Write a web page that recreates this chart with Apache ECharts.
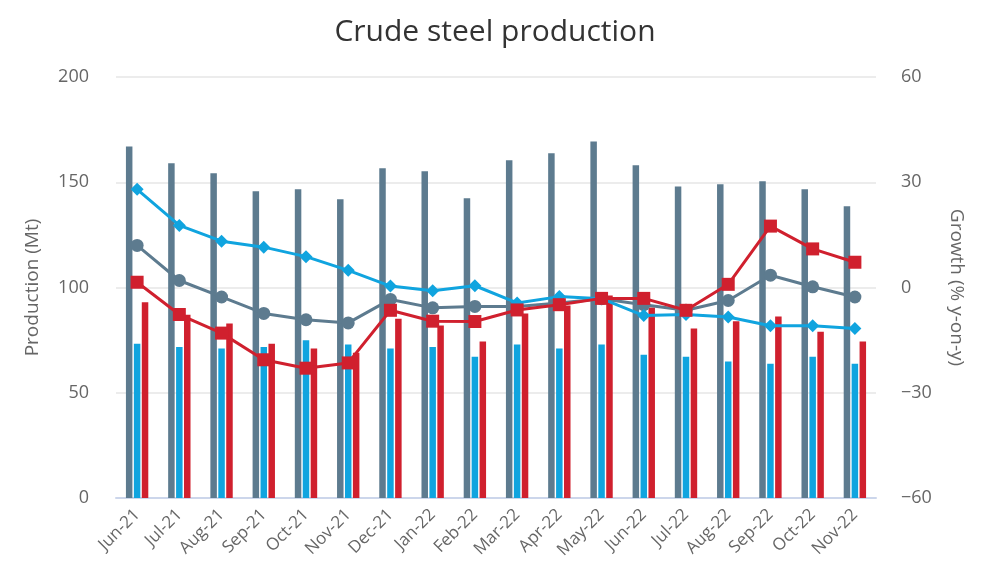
<!DOCTYPE html>
<html>
<head>
<meta charset="utf-8">
<script src="https://cdn.jsdelivr.net/npm/echarts@6/dist/echarts.min.js"></script>
<style>
html,body{margin:0;padding:0;background:#fff;}
#c{width:990px;height:587px;}
</style>
</head>
<body>
<div id="c"></div>
<script>
var categories = ['Jun-21','Jul-21','Aug-21','Sep-21','Oct-21','Nov-21','Dec-21','Jan-22','Feb-22','Mar-22','Apr-22','May-22','Jun-22','Jul-22','Aug-22','Sep-22','Oct-22','Nov-22'];
var worldProduction = [167, 159, 154.3, 145.7, 146.7, 141.9, 156.7, 155.2, 142.4, 160.5, 163.8, 169.4, 158.1, 148, 149, 150.5, 146.7, 138.6];
var restOfWorldProduction = [73.3, 71.7, 71, 71.7, 74.9, 72.9, 71, 71.7, 67.1, 72.9, 71, 72.9, 68.1, 67.1, 64.8, 63.8, 67.1, 63.8];
var chinaProduction = [93, 87, 82.9, 73.3, 71, 69, 85.2, 81.9, 74.3, 87.6, 91.5, 96.2, 90.5, 80.5, 84, 86.2, 79, 74.3];
var worldGrowth = [12, 2, -2.7, -7.4, -9.2, -10.1, -3.4, -5.8, -5.4, -5.4, -4.4, -3.2, -4.9, -6.5, -3.7, 3.5, 0.2, -2.7];
var restOfWorldGrowth = [28, 17.7, 13.2, 11.5, 8.8, 4.9, 0.4, -0.9, 0.5, -4.4, -2.6, -3.2, -8, -7.7, -8.4, -10.9, -10.9, -11.7];
var chinaGrowth = [1.5, -7.7, -13, -20.6, -23, -21.5, -6.5, -9.6, -9.7, -6.4, -4.9, -3.1, -3.1, -6.5, 0.9, 17.5, 11, 7.2];
var leftTicks = {min: 0, max: 200, interval: 50};
var rightTicks = {min: -60, max: 60, interval: 30};

var cDark = '#5d7b8f', cCyan = '#10a4df', cRed = '#d0202e';
var font = 'Open Sans';
var chart = echarts.init(document.getElementById('c'));
chart.setOption({
  animation: false,
  textStyle: {fontFamily: font},
  title: {
    text: 'Crude steel production',
    left: 'center', top: 12,
    textStyle: {fontSize: 30, fontWeight: 'normal', color: '#333', fontFamily: font}
  },
  grid: {left: 116, right: 114, top: 77, bottom: 89},
  xAxis: {
    type: 'category',
    data: categories,
    axisLine: {lineStyle: {color: '#ccd6eb', width: 2}},
    axisTick: {show: false},
    axisLabel: {rotate: 45, color: '#666', fontSize: 17, margin: 14, interval: 0}
  },
  yAxis: [{
    type: 'value', min: leftTicks.min, max: leftTicks.max, interval: leftTicks.interval,
    name: 'Production (Mt)', nameLocation: 'middle', nameGap: 74,
    nameTextStyle: {fontSize: 19, color: '#666'},
    axisLabel: {color: '#666', fontSize: 18, margin: 27},
    axisLine: {show: false}, axisTick: {show: false},
    splitLine: {lineStyle: {color: '#e6e6e6', width: 1.5}}
  }, {
    type: 'value', min: rightTicks.min, max: rightTicks.max, interval: rightTicks.interval,
    position: 'right',
    name: 'Growth (% y-on-y)', nameLocation: 'middle', nameGap: 71, nameRotate: -90,
    nameTextStyle: {fontSize: 19, color: '#666'},
    axisLabel: {color: '#666', fontSize: 18, margin: 25, formatter: function(v){return v < 0 ? '\u2212' + Math.abs(v) : String(v);}},
    axisLine: {show: false}, axisTick: {show: false},
    splitLine: {show: false}
  }],
  series: [
    {name: 'World production', type: 'bar', data: worldProduction, barWidth: 6.5, barGap: '22%', itemStyle: {color: cDark}},
    {name: 'Rest of world production', type: 'bar', data: restOfWorldProduction, barWidth: 6.5, barGap: '22%', itemStyle: {color: cCyan}},
    {name: 'China production', type: 'bar', data: chinaProduction, barWidth: 6.5, barGap: '22%', itemStyle: {color: cRed}},
    {name: 'World growth', type: 'line', yAxisIndex: 1, data: worldGrowth, symbol: 'circle', symbolSize: 13,
      lineStyle: {color: cDark, width: 3}, itemStyle: {color: cDark}, z: 3},
    {name: 'Rest of world growth', type: 'line', yAxisIndex: 1, data: restOfWorldGrowth, symbol: 'diamond', symbolSize: 13,
      lineStyle: {color: cCyan, width: 3}, itemStyle: {color: cCyan}, z: 4},
    {name: 'China growth', type: 'line', yAxisIndex: 1, data: chinaGrowth, symbol: 'rect', symbolSize: 13,
      lineStyle: {color: cRed, width: 3}, itemStyle: {color: cRed}, z: 5}
  ]
});
</script>
</body>
</html>
